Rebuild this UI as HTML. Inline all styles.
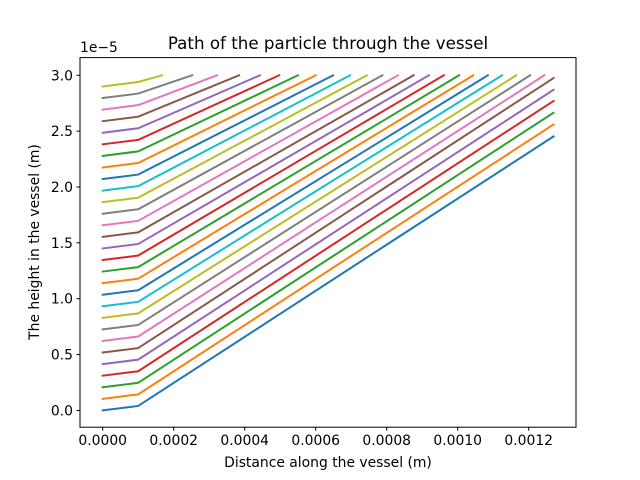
<!DOCTYPE html>
<html><head><meta charset="utf-8"><style>
body{margin:0;background:#fff}
svg{display:block;font-family:"DejaVu Sans","Liberation Sans",sans-serif}
</style></head><body>
<svg id="chart" width="640" height="480" viewBox="0 0 640 480">
<rect width="640" height="480" fill="#fff"/>
<text x="328" y="49" text-anchor="middle" font-size="16.7" fill="#000">Path of the particle through the vessel</text>
<g id="lines"></g>
<rect x="80" y="57.6" width="496" height="369.6" fill="none" stroke="#000" stroke-width="1"/>
<g id="xticks"></g>
<g id="yticks"></g>
<text x="80" y="52" font-size="13.9" fill="#000">1e−5</text>
<text x="328" y="467" text-anchor="middle" font-size="13.9" fill="#000">Distance along the vessel (m)</text>
<text transform="translate(39,242) rotate(-90)" text-anchor="middle" font-size="13.9" fill="#000">The height in the vessel (m)</text>
</svg>
<script>
const startY = [0,1.036,2.071,3.107,4.143,5.179,6.214,7.25,8.286,9.321,10.357,11.393,12.429,13.464,14.5,15.536,16.571,17.607,18.643,19.679,20.714,21.75,22.786,23.821,24.857,25.893,26.929,27.964,29.0];
const kinkX = 0.0001;
const kinkRise = 0.4;
const endX = [0.00127,0.00127,0.00127,0.00127,0.00127,0.00127,0.001244,0.001204,0.001165,0.001125,0.001085,0.001044,0.001004,0.000961,0.000919,0.000876,0.000832,0.000788,0.000744,0.000697,0.000649,0.000600,0.000550,0.000497,0.000443,0.000384,0.000322,0.000252,0.000167];
const endY = [24.53,25.6,26.65,27.7,28.7,29.75,30.0,30.0,30.0,30.0,30.0,30.0,30.0,30.0,30.0,30.0,30.0,30.0,30.0,30.0,30.0,30.0,30.0,30.0,30.0,30.0,30.0,30.0,30.0];
const xTicks = [0,0.0002,0.0004,0.0006,0.0008,0.0010,0.0012];
const xTickLabels = ["0.0000","0.0002","0.0004","0.0006","0.0008","0.0010","0.0012"];
const yTicks = [0,5,10,15,20,25,30];
const yTickLabels = ["0.0","0.5","1.0","1.5","2.0","2.5","3.0"];
const colors = ["#1f77b4","#ff7f0e","#2ca02c","#d62728","#9467bd","#8c564b","#e377c2","#7f7f7f","#bcbd22","#17becf"];
const NS = "http://www.w3.org/2000/svg";
function sx(v){return 102.7 + v*355000;}
function sy(v){return 410.4 - v*11.17;}
const lg = document.getElementById('lines');
for(let i=0;i<startY.length;i++){
  const p = document.createElementNS(NS,'polyline');
  const pts = [[0,startY[i]],[kinkX,startY[i]+kinkRise],[endX[i],endY[i]]];
  p.setAttribute('points', pts.map(q=>sx(q[0]).toFixed(2)+','+sy(q[1]).toFixed(2)).join(' '));
  p.setAttribute('fill','none');
  p.setAttribute('stroke',colors[i%10]);
  p.setAttribute('stroke-width','2');
  p.setAttribute('stroke-linecap','square');
  
  
  lg.appendChild(p);
}
const xg = document.getElementById('xticks');
xTicks.forEach((v,i)=>{
  const x = sx(v);
  const l = document.createElementNS(NS,'line');
  l.setAttribute('x1',x);l.setAttribute('x2',x);l.setAttribute('y1',427.2);l.setAttribute('y2',430.7);
  l.setAttribute('stroke','#000');
  
  
  xg.appendChild(l);
  const t = document.createElementNS(NS,'text');
  t.setAttribute('x',x);t.setAttribute('y',445);t.setAttribute('text-anchor','middle');t.setAttribute('font-size','13.9');
  t.textContent = xTickLabels[i];
  
  
  xg.appendChild(t);
});
const yg = document.getElementById('yticks');
yTicks.forEach((v,i)=>{
  const y = sy(v);
  const l = document.createElementNS(NS,'line');
  l.setAttribute('x1',76.5);l.setAttribute('x2',80);l.setAttribute('y1',y);l.setAttribute('y2',y);
  l.setAttribute('stroke','#000');
  
  
  yg.appendChild(l);
  const t = document.createElementNS(NS,'text');
  t.setAttribute('x',73);t.setAttribute('y',y+5);t.setAttribute('text-anchor','end');t.setAttribute('font-size','13.9');
  t.textContent = yTickLabels[i];
  
  
  yg.appendChild(t);
});
</script>
</body></html>
